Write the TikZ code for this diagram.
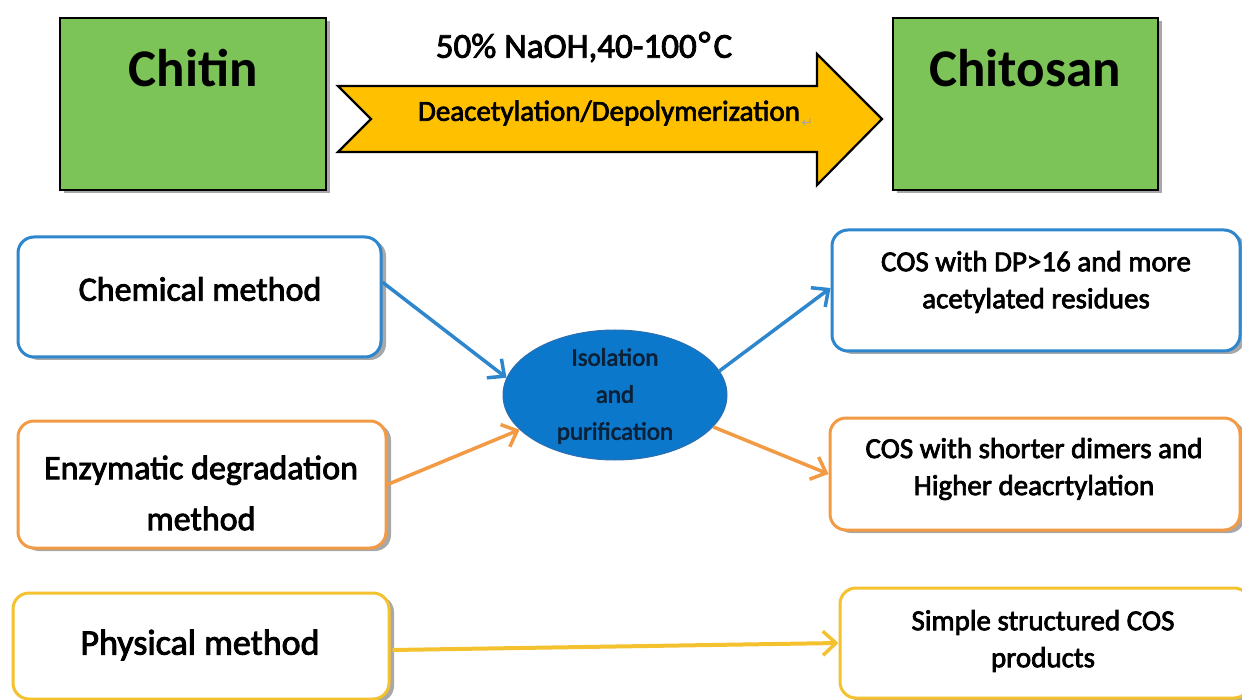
\documentclass[tikz,border=0pt]{standalone}
\usepackage{fontspec}
\setmainfont{Carlito}
\newfontfamily\medfont{Carlito}[FakeBold=2.5]
\newfontfamily\symfont{DejaVu Sans}
\usetikzlibrary{shadows,arrows.meta,calc,shapes.geometric}
\definecolor{grn}{HTML}{7DC458}
\definecolor{arrowfill}{HTML}{FFC000}
\definecolor{bl}{HTML}{2E86CC}
\definecolor{ellfill}{HTML}{0B78CB}
\definecolor{ellline}{HTML}{2D6FAF}
\definecolor{org}{HTML}{F29A44}
\definecolor{ylw}{HTML}{F3C22E}
\definecolor{shd}{HTML}{A8A8A8}
\definecolor{elltext}{HTML}{0B2138}
\begin{document}
\begin{tikzpicture}[x=1pt,y=-1pt,
  greenbox/.style={draw=black, line width=2.2pt, fill=grn, inner sep=0pt,
    minimum width=266pt, minimum height=172pt,
    drop shadow={shadow xshift=4pt, shadow yshift=-3pt, fill=shd, opacity=1}},
  bigtxt/.style={font=\fontsize{53}{60}\selectfont\bfseries, inner sep=0pt},
  methbox/.style={draw=#1, line width=3pt, fill=white, rounded corners=16pt, inner sep=0pt,
    drop shadow={shadow xshift=5pt, shadow yshift=-3pt, fill=shd, opacity=1}},
  methtxt/.style={font=\medfont\fontsize{34}{51}\selectfont, align=center, inner sep=0pt},
  restxt/.style={font=\medfont\fontsize{29}{37}\selectfont, align=center, inner sep=0pt},
  link/.style={draw=#1, line width=3.5pt, -{Straight Barb[length=13pt,width=24pt,line width=3.5pt]}},
]
\useasboundingbox (0,0) rectangle (1242,700);

% top row
\node[greenbox] (chitin) at (193,104) {};
\node[bigtxt] (chitinlbl) at (193,68) {Chitin};
\node[greenbox, minimum width=265pt] (chitosan) at (1025.5,104) {};
\node[bigtxt] (chitosanlbl) at (1025,68) {Chitosan};

% big notched arrow
\draw[line width=2.2pt, fill=arrowfill, line join=miter]
  (338,86) -- (817,86) -- (817,54) -- (882,119) -- (817,185) -- (817,152)
  -- (338,152) -- (371,119) -- cycle;
\node[font=\medfont\fontsize{35}{40}\selectfont, inner sep=0pt] (cond) at (584,47) {50\% NaOH,40-100\kern2pt\raisebox{2pt}{\textdegree}\kern3pt C};
\node[font=\medfont\fontsize{29}{34}\selectfont, inner sep=0pt] (deac) at (609,113) {Deacetylation/Depolymerization};
\node[font=\symfont\fontsize{14}{14}\selectfont, text=gray!70, inner sep=0pt, anchor=south west] (pmark) at ($(deac.south east)+(1,2)$) {↵};

% method boxes
\node[methbox=bl, minimum width=363pt, minimum height=120pt] (chem) at (199.5,297) {};
\node[methtxt] (chemlbl) at (200,289) {Chemical method};
\node[methbox=org, minimum width=368pt, minimum height=127pt] (enz) at (202,484.5) {};
\node[methtxt] (enzlbl) at (201,493) {Enzymatic degradation\\method};
\node[methbox=ylw, minimum width=376pt, minimum height=106pt] (phys) at (201,646) {};
\node[methtxt, font=\medfont\fontsize{36}{51}\selectfont] (physlbl) at (200,645) {Physical method};

% ellipse
\node[ellipse, draw=ellline, line width=1pt, fill=ellfill, minimum width=224pt, minimum height=130pt, inner sep=0pt] (iso) at (615,395) {};
\node[font=\medfont\fontsize{25}{37}\selectfont, text=elltext, align=center, inner sep=0pt] (isolbl) at (615,396) {Isolation\\and\\purification};

% result boxes
\node[methbox=bl, minimum width=408pt, minimum height=121pt] (res1) at (1036,290.5) {};
\node[restxt] (res1lbl) at (1036,282) {COS with DP>16 and more\\acetylated residues};
\node[methbox=org, minimum width=410pt, minimum height=112pt] (res2) at (1035,474) {};
\node[restxt] (res2lbl) at (1034,469) {COS with shorter dimers and\\Higher deacrtylation};
\node[methbox=ylw, minimum width=410pt, minimum height=110pt] (res3) at (1045,643) {};
\node[font=\medfont\fontsize{29}{37}\selectfont, align=center, inner sep=0pt] (res3lbl) at (1043,641) {Simple structured COS\\products};

% connectors
\draw[link=bl] ($(chem.north east)!0.38!(chem.south east)$) -- (iso.171);
\draw[link=org] (enz.east) -- (iso.200);
\draw[link=bl] (iso.13) -- ($(res1.north west)!0.48!(res1.south west)$);
\draw[link=org] (iso.-18) -- (res2.west);
\draw[link=ylw, line width=4pt] ($(phys.east)+(2,4)$) -- (res3.west);
\end{tikzpicture}
\end{document}
